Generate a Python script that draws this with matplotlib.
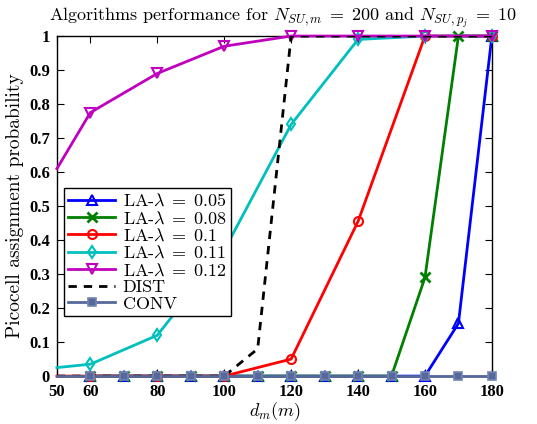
import numpy as np
import matplotlib
matplotlib.use('Agg')
import matplotlib.pyplot as plt

plt.rcParams['mathtext.fontset'] = 'cm'
plt.rcParams['font.family'] = 'serif'
plt.rcParams['font.serif'] = ['cmr10', 'DejaVu Serif']
plt.rcParams['axes.formatter.use_mathtext'] = True

# Data
x_step10 = [60, 70, 80, 90, 100, 110, 120, 130, 140, 150, 160, 170, 180]
la005 = [0, 0, 0, 0, 0, 0, 0, 0, 0, 0, 0, 0.155, 1.0]
la008 = [0, 0, 0, 0, 0, 0, 0, 0, 0, 0, 0.29, 1.0, 1.0]

x_step20 = [50, 60, 80, 100, 120, 140, 160, 180]
la010 = [0, 0, 0, 0, 0.05, 0.455, 1.0, 1.0]
la011 = [0.025, 0.035, 0.12, 0.37, 0.74, 0.99, 1.0, 1.0]
la012 = [0.61, 0.775, 0.89, 0.97, 1.0, 1.0, 1.0, 1.0]

x_dist = [50, 60, 70, 80, 90, 100, 110, 120, 130, 140, 150, 160, 170, 180]
dist = [0, 0, 0, 0, 0, 0, 0.08, 1.0, 1.0, 1.0, 1.0, 1.0, 1.0, 1.0]
conv = [0, 0, 0, 0, 0, 0, 0, 0, 0, 0, 0, 0, 0, 0]

x_ticks = [50, 60, 80, 100, 120, 140, 160, 180]
y_ticks = [0, 0.1, 0.2, 0.3, 0.4, 0.5, 0.6, 0.7, 0.8, 0.9, 1]
y_labels = ['0', '0.1', '0.2', '0.3', '0.4', '0.5', '0.6', '0.7', '0.8', '0.9', '1']

fig = plt.figure(figsize=(5.37, 4.24), dpi=100)
ax = fig.add_axes([0.106, 0.113, 0.81, 0.802])

lw = 2.0
skip_first = list(range(1, 8))
ax.plot(x_step10, la005, color='blue', lw=lw, marker='^', ms=6.5, mfc='none', mew=1.5,
        label=r'LA-$\lambda\;=\;0.05$', clip_on=False, zorder=3)
ax.plot(x_step10, la008, color='green', lw=lw, marker='x', ms=7, mew=2,
        label=r'LA-$\lambda\;=\;0.08$', clip_on=False, zorder=3)
ax.plot(x_step20, la010, color='red', lw=lw, marker='o', ms=6.5, mfc='none', mew=1.5,
        label=r'LA-$\lambda\;=\;0.1$', clip_on=False, zorder=3, markevery=skip_first)
ax.plot(x_step20, la011, color='c', lw=lw, marker='d', ms=6.5, mfc='none', mew=1.5,
        label=r'LA-$\lambda\;=\;0.11$', clip_on=False, zorder=3, markevery=skip_first)
ax.plot(x_step20, la012, color='m', lw=lw, marker='v', ms=7, mfc='none', mew=1.5,
        label=r'LA-$\lambda\;=\;0.12$', clip_on=False, zorder=3, markevery=skip_first)
ax.plot(x_dist, dist, color='black', lw=lw, ls=(0, (3, 2.5)), label='DIST', zorder=3)
ax.plot(x_dist, conv, color='#56699a', lw=lw, marker='s', ms=5.5, mfc='#56699a',
        mec='#7385b3', mew=1.2, label='CONV', clip_on=False, zorder=4,
        markevery=list(range(1, 14)))

ax.set_xlim(50, 180)
ax.set_ylim(0, 1)
ax.set_xticks(x_ticks)
ax.set_yticks(y_ticks)
ax.set_xticklabels([str(t) for t in x_ticks], fontfamily='Liberation Serif',
                   fontweight='bold', fontsize=12)
ax.set_yticklabels(y_labels, fontfamily='Liberation Serif', fontweight='bold', fontsize=12)
ax.tick_params(direction='in', top=True, right=True, length=5)
ax.tick_params(axis='x', pad=6)
ax.tick_params(axis='y', pad=5)
for s in ax.spines.values():
    s.set_linewidth(1.0)

ax.set_xlabel(r'$d_m(m)$', fontsize=13, labelpad=0)
ax.set_ylabel('Picocell assignment probability', fontsize=14, labelpad=4)
ax.set_title(r'Algorithms performance for $N_{SU,m}\;=\;200$ and $N_{SU,p_j}\;=\;10$',
             fontsize=13, pad=11, x=0.52)

leg = ax.legend(loc='upper left', bbox_to_anchor=(0.016, 0.553), borderaxespad=0,
                fontsize=13, fancybox=False, edgecolor='black', framealpha=1,
                handlelength=2.6, labelspacing=0.05, borderpad=0.25, handletextpad=0.4)
leg.get_frame().set_linewidth(1.0)

fig.savefig('out.png', dpi=100)
